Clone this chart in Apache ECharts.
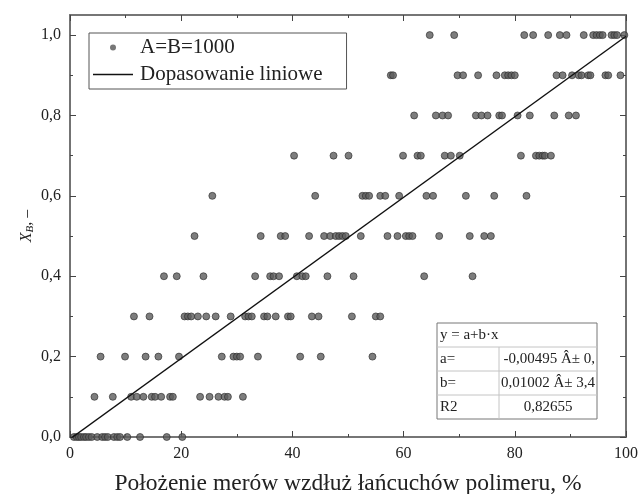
<!DOCTYPE html>
<html>
<head>
<meta charset="utf-8">
<script src="https://cdn.jsdelivr.net/npm/echarts@6/dist/echarts.min.js"></script>
<style>
  html, body { margin: 0; padding: 0; background: #fff; }
  #chart { width: 638px; height: 494px; }
</style>
</head>
<body>
<div id="chart"></div>
<script>
// Positions (%) of the mers along the chains, grouped by their X_B value
const levels = [0.0, 0.1, 0.2, 0.3, 0.4, 0.5, 0.6, 0.7, 0.8, 0.9, 1.0];
const row00 = [0.7, 1.2, 1.6, 2.0, 2.5, 2.9, 3.4, 3.9, 4.9, 5.8, 6.3, 6.8, 7.9, 8.5, 9.0, 10.3, 12.6, 17.4, 20.2];
const row01 = [4.4, 7.7, 11.0, 12.0, 13.2, 14.7, 15.3, 16.4, 18.0, 18.5, 23.4, 25.1, 26.7, 27.8, 28.4, 31.1];
const row02 = [5.5, 9.9, 13.6, 15.9, 19.6, 27.3, 29.4, 30.0, 30.6, 33.8, 41.4, 45.1, 54.4];
const row03 = [11.5, 14.3, 20.6, 21.2, 21.8, 23.0, 24.5, 26.2, 28.9, 31.5, 32.1, 32.7, 34.9, 35.5, 37.0, 39.2, 39.7, 43.5, 44.7, 50.7, 55.0, 55.8];
const row04 = [16.9, 19.2, 24.0, 33.3, 36.0, 36.6, 37.6, 40.8, 41.8, 42.4, 46.3, 51.0, 63.7, 72.4];
const row05 = [22.4, 34.3, 37.9, 38.7, 43.0, 45.7, 46.8, 47.8, 48.4, 49.0, 49.6, 52.3, 57.1, 58.9, 60.4, 61.0, 61.6, 66.4, 71.9, 74.5, 75.7];
const row06 = [25.6, 44.1, 52.6, 53.2, 53.8, 55.8, 56.7, 59.2, 64.1, 65.3, 71.2, 76.3, 82.1];
const row07 = [40.3, 47.4, 50.1, 59.9, 62.5, 63.1, 67.4, 68.5, 70.1, 81.1, 83.8, 84.4, 85.0, 85.4, 86.5];
const row08 = [61.9, 65.8, 67.0, 68.0, 73.0, 74.0, 75.1, 77.2, 77.7, 80.5, 82.7, 87.1, 89.7, 91.0];
const row09 = [57.7, 58.1, 69.7, 70.7, 73.4, 76.7, 78.2, 78.8, 79.4, 80.0, 87.5, 88.6, 90.3, 91.5, 92.0, 93.2, 93.6, 96.3, 96.8, 99.0];
const row10 = [64.7, 69.1, 81.7, 83.3, 86.0, 88.1, 89.3, 92.4, 94.1, 94.7, 95.3, 95.8, 97.4, 97.9, 98.4, 99.7];
const rows = [row00, row01, row02, row03, row04, row05, row06, row07, row08, row09, row10];

// Linear fit y = a + b*x
const fitA = -0.00495;
const fitB = 0.01002;
const fitR2 = 0.82655;
const fitRange = [0, 100];

// Tick values
const xMajorTicks = [0, 20, 40, 60, 80, 100];
const xMinorTicks = [10, 30, 50, 70, 90];
const yMajorTicks = [0, 0.2, 0.4, 0.6, 0.8, 1.0];
const yMinorTicks = [0.1, 0.3, 0.5, 0.7, 0.9];

const seriesName = 'A=B=1000';
const fitName = 'Dopasowanie liniowe';
const xTitle = 'Położenie merów wzdłuż łańcuchów polimeru, %';

const FONT = '"Liberation Serif", "Times New Roman", serif';
const AXIS_COLOR = '#6e6e6e';

const scatterData = [];
rows.forEach((xs, i) => xs.forEach(x => scatterData.push([x, levels[i]])));
const fitData = fitRange.map(x => [x, fitA + fitB * x]);

const fmtComma = (v, digits) => v.toFixed(digits).replace('.', ',');

function xAxisDef(pos, ticks, len, showLabel) {
  return {
    type: 'value', position: pos, min: 0, max: 100,
    axisLine: { show: true, onZero: false, lineStyle: { color: AXIS_COLOR, width: 1.6 } },
    axisTick: { show: true, inside: true, length: len, customValues: ticks,
                lineStyle: { color: '#444', width: 1 } },
    axisLabel: showLabel ? {
      show: true, customValues: ticks, margin: 9,
      fontFamily: FONT, fontSize: 16, color: '#222',
      formatter: v => String(Math.round(v))
    } : { show: false },
    splitLine: { show: false }
  };
}
function yAxisDef(pos, ticks, len, showLabel) {
  return {
    type: 'value', position: pos, min: 0, max: 1.05,
    axisLine: { show: true, onZero: false, lineStyle: { color: AXIS_COLOR, width: 1.6 } },
    axisTick: { show: true, inside: true, length: len, customValues: ticks,
                lineStyle: { color: '#444', width: 1 } },
    axisLabel: showLabel ? {
      show: true, customValues: ticks, margin: 9,
      fontFamily: FONT, fontSize: 16, color: '#222',
      formatter: v => fmtComma(v, 1)
    } : { show: false },
    splitLine: { show: false }
  };
}

const xMain = xAxisDef('bottom', xMajorTicks, 6, true);
xMain.name = xTitle;
xMain.nameLocation = 'middle';
xMain.nameGap = 35;
xMain.nameMoveOverlap = false;
xMain.nameTextStyle = { fontFamily: FONT, fontSize: 23.5, color: '#222' };

const yMain = yAxisDef('left', yMajorTicks, 6, true);
yMain.name = '{i|X}{s|B}{n|, –}';
yMain.nameLocation = 'middle';
yMain.nameGap = 34;
yMain.nameRotate = 90;
yMain.nameMoveOverlap = false;
yMain.nameTextStyle = {
  fontFamily: FONT, color: '#222',
  rich: {
    i: { fontFamily: FONT, fontStyle: 'italic', fontSize: 16, color: '#222' },
    s: { fontFamily: FONT, fontStyle: 'italic', fontSize: 11, color: '#222', padding: [8, 0, 0, 0] },
    n: { fontFamily: FONT, fontSize: 16, color: '#222' }
  }
};

// Fit results table (drawn in the lower-right corner of the plot)
const tbl = { x: 437, y: 323, w: 160, rowH: 24, col: 62 };
const tableRows = [
  ['a=', fmtComma(fitA, 5) + ' Â± 0,'],
  ['b=', fmtComma(fitB, 5) + ' Â± 3,4'],
  ['R2', fmtComma(fitR2, 5)]
];
const tableEls = [];
tableEls.push({ type: 'rect', shape: { x: tbl.x, y: tbl.y, width: tbl.w, height: tbl.rowH * 4 },
  style: { fill: '#fff', stroke: '#777', lineWidth: 1 } });
for (let r = 1; r < 4; r++) {
  tableEls.push({ type: 'line', shape: { x1: tbl.x, y1: tbl.y + r * tbl.rowH, x2: tbl.x + tbl.w, y2: tbl.y + r * tbl.rowH },
    style: { stroke: '#c4c4c4', lineWidth: 1 } });
}
tableEls.push({ type: 'line', shape: { x1: tbl.x + tbl.col, y1: tbl.y + tbl.rowH, x2: tbl.x + tbl.col, y2: tbl.y + 4 * tbl.rowH },
  style: { stroke: '#c4c4c4', lineWidth: 1 } });
tableEls.push({ type: 'text', x: tbl.x + 3, y: tbl.y + tbl.rowH / 2,
  style: { text: 'y = a+b·x', font: '15px ' + FONT, fill: '#222', verticalAlign: 'middle' } });
tableRows.forEach((row, i) => {
  const cy = tbl.y + (i + 1.5) * tbl.rowH;
  tableEls.push({ type: 'text', x: tbl.x + 3, y: cy,
    style: { text: row[0], font: '15px ' + FONT, fill: '#222', verticalAlign: 'middle' } });
  const isLast = i === tableRows.length - 1;
  tableEls.push({ type: 'text', x: isLast ? tbl.x + tbl.col + (tbl.w - tbl.col) / 2 : tbl.x + tbl.w - 2, y: cy,
    style: { text: row[1], font: '15px ' + FONT, fill: '#222', verticalAlign: 'middle',
             align: isLast ? 'center' : 'right' } });
});

const chart = echarts.init(document.getElementById('chart'), null, { renderer: 'canvas' });
chart.setOption({
  backgroundColor: '#fff',
  animation: false,
  grid: { left: 70, right: 12, top: 15, bottom: 57, containLabel: false, outerBoundsMode: 'none' },
  xAxis: [
    xMain,
    xAxisDef('bottom', xMinorTicks, 3, false),
    xAxisDef('top', xMajorTicks, 6, false),
    xAxisDef('top', xMinorTicks, 3, false)
  ],
  yAxis: [
    yMain,
    yAxisDef('left', yMinorTicks, 3, false),
    yAxisDef('right', yMajorTicks, 6, false),
    yAxisDef('right', yMinorTicks, 3, false)
  ],
  legend: {
    orient: 'vertical',
    left: 89, top: 33,
    padding: [4, 24, 4, 4],
    itemGap: 6,
    itemWidth: 40, itemHeight: 6,
    borderColor: '#555', borderWidth: 1,
    backgroundColor: '#fff',
    textStyle: { fontFamily: FONT, fontSize: 21, color: '#222', padding: [0, 0, 0, 2] },
    data: [
      { name: seriesName, icon: 'circle', itemStyle: { borderWidth: 0, color: '#555' } },
      { name: fitName, icon: 'path://M0,0H40V1.4H0Z' }
    ]
  },
  series: [
    {
      name: seriesName,
      type: 'scatter',
      xAxisIndex: 0, yAxisIndex: 0,
      symbol: 'circle',
      symbolSize: 7,
      itemStyle: { color: '#5c5c5c', borderColor: '#2a2a2a', borderWidth: 0.8 },
      data: scatterData,
      z: 3
    },
    {
      name: fitName,
      type: 'line',
      xAxisIndex: 0, yAxisIndex: 0,
      symbol: 'none',
      showSymbol: false,
      lineStyle: { color: '#111', width: 1.4 },
      itemStyle: { color: '#111' },
      data: fitData,
      clip: true,
      z: 4
    }
  ],
  graphic: [{ type: 'group', z: 100, children: tableEls }]
});
</script>
</body>
</html>
